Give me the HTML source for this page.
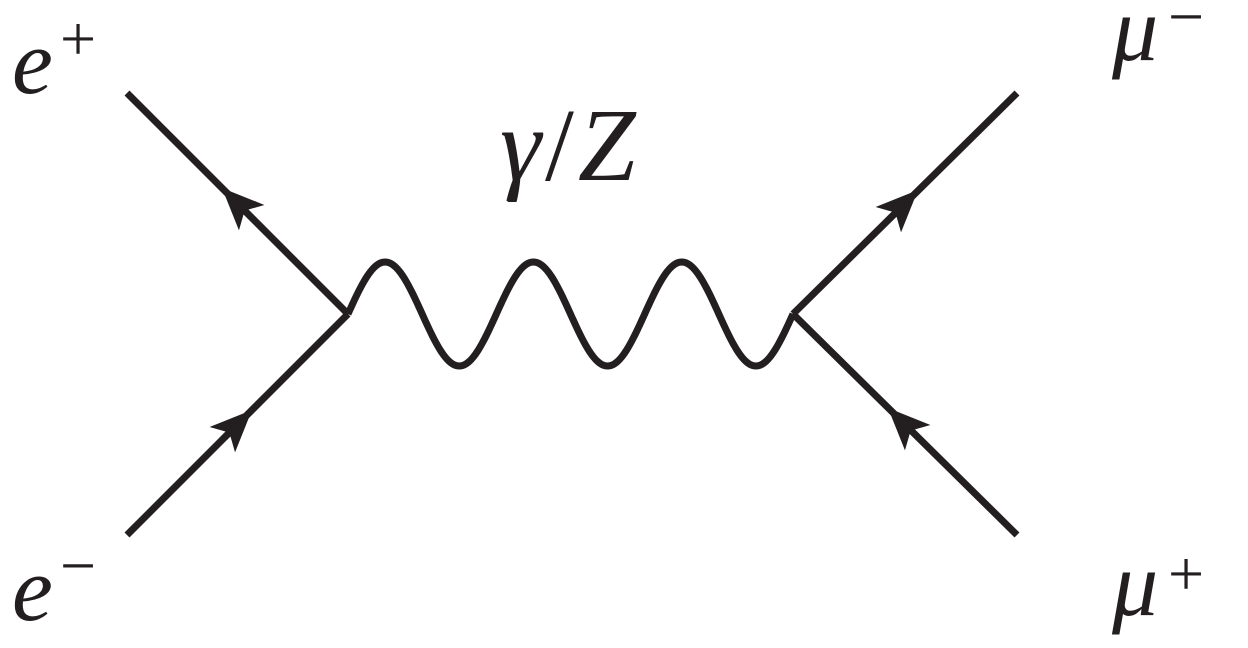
<!DOCTYPE html>
<html><head><meta charset="utf-8"><style>
html,body{margin:0;padding:0;background:#fff;}
svg{display:block;}
text{font-family:"Liberation Serif",serif;fill:#231f20;}
</style></head><body>
<svg width="1248" height="648" viewBox="0 0 1248 648">
<g stroke="#231f20" stroke-width="7" fill="none" stroke-linecap="butt">
<line x1="127" y1="93" x2="348" y2="314"/>
<line x1="127" y1="535" x2="348" y2="314"/>
<line x1="793" y1="314" x2="1017" y2="93"/>
<line x1="793" y1="314" x2="1017" y2="535"/>
<path id="wave" d=""/>
</g>
<g fill="#231f20">
<path d="M0,0 L-42,-18 L-32,0 L-42,18 Z" transform="translate(222,188) rotate(225)"/>
<path d="M0,0 L-42,-18 L-32,0 L-42,18 Z" transform="translate(252,410) rotate(-45)"/>
<path d="M0,0 L-42,-18 L-32,0 L-42,18 Z" transform="translate(918,190) rotate(-45)"/>
<path d="M0,0 L-42,-18 L-32,0 L-42,18 Z" transform="translate(888,408) rotate(225)"/>
</g>
<text x="12" y="93" font-size="92" font-style="italic">e</text>
<text x="60" y="60" font-size="64">+</text>
<text x="12" y="620" font-size="92" font-style="italic">e</text>
<text x="60" y="587" font-size="64">−</text>
<text x="500" y="180" font-size="104" font-style="italic" letter-spacing="4">γ<tspan font-style="normal">/</tspan>Z</text>
<text x="1112" y="60" font-size="92" font-style="italic">μ</text>
<text x="1168" y="38" font-size="64">−</text>
<text x="1112" y="615" font-size="92" font-style="italic">μ</text>
<text x="1168" y="595" font-size="64">+</text>
</svg>
<script>
var x0=348,x1=793,yc=314,amp=52,periods=3;
var d="";
for(var i=0;i<=300;i++){var x=x0+(x1-x0)*i/300;var y=yc-amp*Math.sin(2*Math.PI*periods*i/300);d+=(i?"L":"M")+x.toFixed(2)+","+y.toFixed(2);}
document.getElementById('wave').setAttribute('d',d);
</script>
</body></html>
